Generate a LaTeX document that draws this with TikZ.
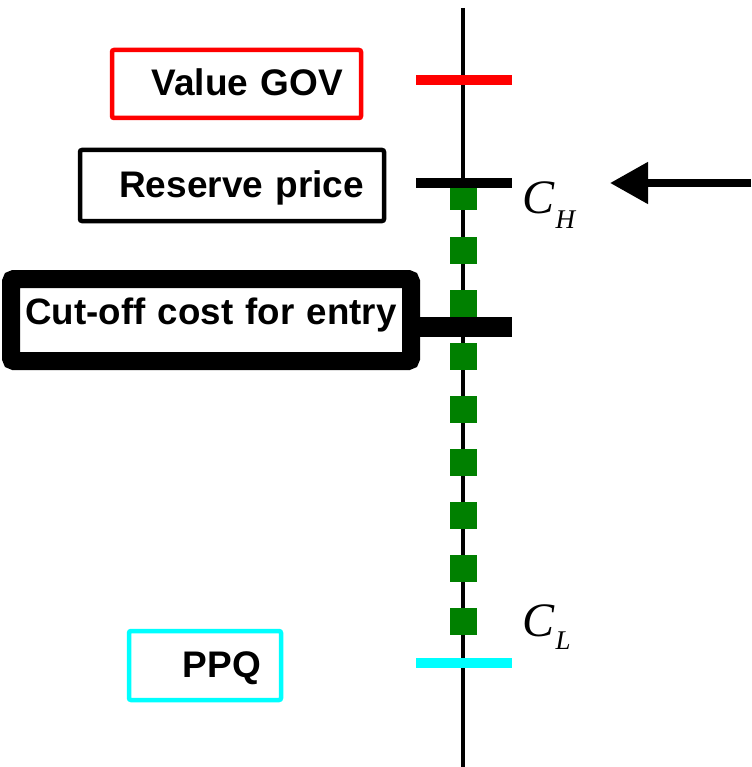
\documentclass[tikz,border=0pt]{standalone}
\usepackage{fontspec}
\setmainfont{Liberation Serif}
\newfontfamily\boxfont{Liberation Sans}
\usepackage{tikz}
\usetikzlibrary{arrows.meta}
\definecolor{govred}{HTML}{FF0000}
\definecolor{ppqcyan}{HTML}{00FFFF}
\definecolor{costgreen}{HTML}{008000}

\tikzset{
    labelbox/.style={draw, rounded corners=2pt, line width=4.5pt, fill=white,
      font=\boxfont\bfseries\fontsize{37}{40}\selectfont,
      text height=28pt, text depth=5pt, align=right},
    tick/.style={line width=10pt},
    costlabel/.style={anchor=base west, font=\fontsize{48}{50}\selectfont\itshape}
}

\begin{document}
\begin{tikzpicture}[x=1pt, y=-1pt]
    \useasboundingbox (0,0) rectangle (751,767);
    \coordinate (axistop) at (463,8);
    \coordinate (axisbot) at (463,767);
    \draw[line width=4.5pt] (axistop) -- (axisbot);
    \foreach \y in {197,250,...,621} {
      \fill[costgreen] (463,\y) +(-13.5,-13.5) rectangle +(13.5,13.5);
    }
    \node[labelbox, draw=govred, inner xsep=18pt, text width=213pt, minimum height=68pt]
      (gov) at (236.5,84) {Value GOV};
    \node[labelbox, inner xsep=20pt, text width=264pt, minimum height=71pt]
      (reserve) at (232,185.5) {Reserve price};
    \node[labelbox, line width=18pt, rounded corners=3pt, align=center, inner xsep=0pt,
      text width=400pt, minimum height=82pt, text height=28pt, text depth=20pt,
      font=\boxfont\bfseries\fontsize{36.7}{40}\selectfont]
      (cutoff) at (211,320) {Cut-off cost for entry};
    \node[labelbox, draw=ppqcyan, inner xsep=20pt, text width=112pt, minimum height=69pt]
      (ppq) at (205,665.5) {PPQ};
    \draw[tick, govred] (416,80) -- (512,80);
    \draw[tick] (416,183) -- (512,183);
    \draw[line width=20pt] (cutoff.east |- 0,327) -- (512,327);
    \draw[tick, ppqcyan] (416,663) -- (512,663);
    \node[costlabel] (ch) at (519,214) {C\hspace{1pt}\raisebox{-14pt}{\fontsize{27}{27}\selectfont H}};
    \node[costlabel] (cl) at (519,636) {C\hspace{1pt}\raisebox{-13pt}{\fontsize{27}{27}\selectfont L}};
    \coordinate (arrowtail) at (751,183);
    \coordinate (arrowtip) at (610,183);
    \draw[line width=8pt, -{Triangle[length=38pt, width=40pt]}] (arrowtail) -- (arrowtip);
\end{tikzpicture}
\end{document}
